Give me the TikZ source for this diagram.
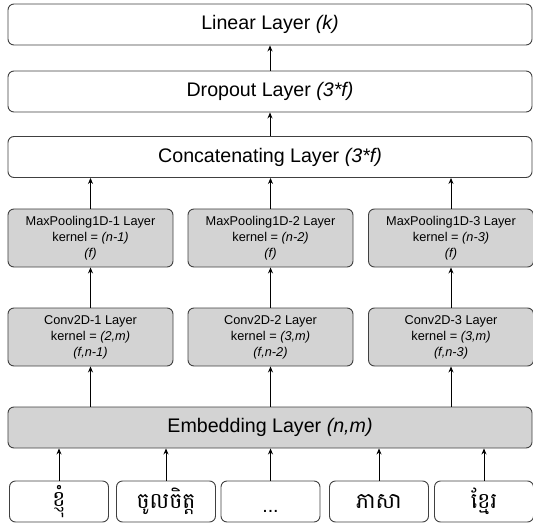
\documentclass[tikz,border=0pt]{standalone}
\usepackage{fontspec}
\setmainfont{Liberation Sans}
\newfontfamily\khmerfont[Script=Khmer]{Battambang}
\usetikzlibrary{arrows.meta}
\definecolor{boxline}{RGB}{64,64,64}
\definecolor{boxgray}{RGB}{211,211,211}
\tikzset{
  widebox/.style={draw=boxline, line width=0.9bp, rounded corners=6bp, fill=white,
    minimum width=524bp, minimum height=41bp, inner sep=0pt,
    font=\fontsize{19.7}{23}\selectfont},
  layerbox/.style={draw=boxline, line width=0.9bp, rounded corners=6bp, fill=boxgray,
    minimum width=165bp, minimum height=58bp, inner sep=0pt, align=center,
    font=\fontsize{12.8}{16}\selectfont},
  embbox/.style={widebox, fill=boxgray},
  wordbox/.style={draw=boxline, line width=0.9bp, rounded corners=6bp, fill=white,
    minimum width=99bp, minimum height=41bp, inner sep=0pt},
  khm/.style={font=\khmerfont\fontsize{22}{24}\selectfont},
  arr/.style={draw=black, line width=0.8bp, -{Stealth[length=6bp,width=5bp]}}
}
\begin{document}
\begin{tikzpicture}[x=1bp,y=-1bp]
\useasboundingbox (0,0) rectangle (533,523);

\node[widebox] (lin) at (270,24.5) {Linear Layer \textit{(k)}};
\node[widebox] (drop) at (270,91.5) {Dropout Layer \textit{(3*f)}};
\node[widebox] (cat) at (270,157) {Concatenating Layer \textit{(3*f)}};

\node[layerbox] (mp1) at (90.5,238) {MaxPooling1D-1 Layer\\kernel = \textit{(n-1)}\\\textit{(f)}};
\node[layerbox] (mp2) at (270.5,238) {MaxPooling1D-2 Layer\\kernel = \textit{(n-2)}\\\textit{(f)}};
\node[layerbox] (mp3) at (451,238) {MaxPooling1D-3 Layer\\kernel = \textit{(n-3)}\\\textit{(f)}};

\node[layerbox] (cv1) at (90.5,337) {Conv2D-1 Layer\\kernel = \textit{(2,m)}\\\textit{(f,n-1)}};
\node[layerbox] (cv2) at (270.5,337) {Conv2D-2 Layer\\kernel = \textit{(3,m)}\\\textit{(f,n-2)}};
\node[layerbox] (cv3) at (451,337) {Conv2D-3 Layer\\kernel = \textit{(3,m)}\\\textit{(f,n-3)}};

\node[embbox] (emb) at (270,427.5) {Embedding Layer \textit{(n,m)}};

\node[wordbox, khm] (w1) at (59,501.5) {ខ្ញុំ};
\node[wordbox, khm] (w2) at (166,501.5) {ចូលចិត្ត};
\node[wordbox, font=\fontsize{19.7}{23}\selectfont, text height=21bp, text depth=0bp] (w3) at (270.5,501.5) {...};
\node[wordbox, khm] (w4) at (379,501.5) {ភាសា};
\node[wordbox, khm] (w5) at (484,501.5) {ខ្មែរ};

\draw[arr] (drop) -- (lin);
\draw[arr] (cat) -- (drop);
\draw[arr] (mp1) -- (mp1 |- cat.south);
\draw[arr] (mp2) -- (mp2 |- cat.south);
\draw[arr] (mp3) -- (mp3 |- cat.south);
\draw[arr] (cv1) -- (mp1);
\draw[arr] (cv2) -- (mp2);
\draw[arr] (cv3) -- (mp3);
\draw[arr] (cv1 |- emb.north) -- (cv1);
\draw[arr] (cv2 |- emb.north) -- (cv2);
\draw[arr] (cv3 |- emb.north) -- (cv3);
\draw[arr] (w1) -- (w1 |- emb.south);
\draw[arr] (w2) -- (w2 |- emb.south);
\draw[arr] (w3) -- (w3 |- emb.south);
\draw[arr] (w4) -- (w4 |- emb.south);
\draw[arr] (w5) -- (w5 |- emb.south);
\end{tikzpicture}
\end{document}
